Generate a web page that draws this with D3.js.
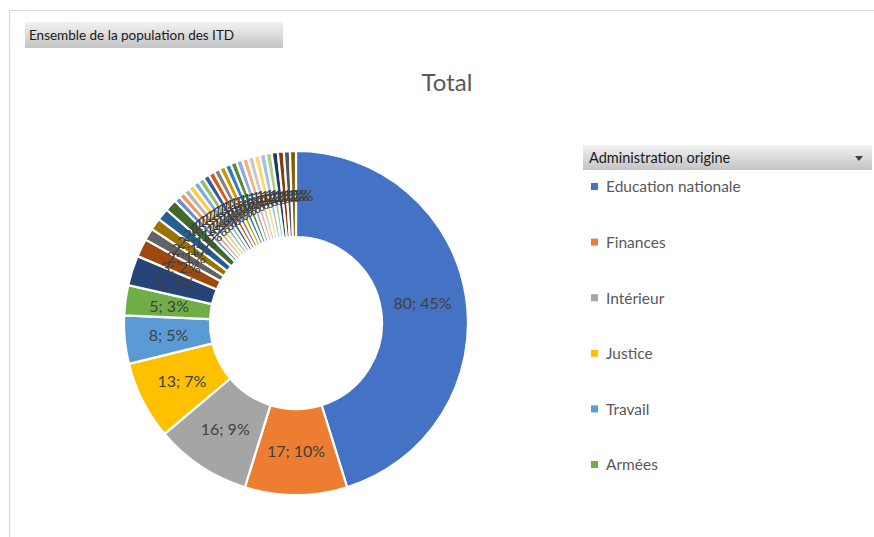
<!DOCTYPE html>
<html><head><meta charset="utf-8">
<script src="https://cdn.jsdelivr.net/npm/d3@7"></script>
<style>
html,body{margin:0;padding:0;background:#fff;}
svg{display:block;font-family:Lato,"Open Sans",sans-serif;}
</style></head>
<body><svg id="chart" width="874" height="537"></svg>
<script>
// ---- data ----
const categories = ["Education nationale","Finances","Intérieur","Justice","Travail","Armées",
  "Administration 7","Administration 8","Administration 9","Administration 10","Administration 11","Administration 12",
  "Administration 13","Administration 14","Administration 15","Administration 16","Administration 17","Administration 18",
  "Administration 19","Administration 20","Administration 21","Administration 22","Administration 23","Administration 24",
  "Administration 25","Administration 26","Administration 27","Administration 28","Administration 29","Administration 30",
  "Administration 31","Administration 32","Administration 33","Administration 34"];
const values = [80,17,16,13,8,5, 5,3,2,2,2,2, 1,1,1,1,1,1, 1,1,1,1,1,1, 1,1,1,1,1,1, 1,1,1,1];
const colors = ["#4472C4","#ED7D31","#A5A5A5","#FFC000","#5B9BD5","#70AD47",
  "#264478","#9E480E","#636363","#997300","#255E91","#43682B",
  "#698ED0","#F1975A","#B7B7B7","#FFCD33","#7CAFDD","#8CC168",
  "#335AA1","#D25F12","#848484","#CC9900","#327CC2","#5B8B39",
  "#8FAADC","#F4B183","#C9C9C9","#FFD966","#9DC3E6","#A9D18E",
  "#203864","#843C0C","#525252","#7F6000"];
const legendShown = 6;
const title = "Total";
const filterLabel = "Ensemble de la population des ITD";
const legendTitle = "Administration origine";

const svg = d3.select("#chart");
const defs = svg.append("defs");
const g1 = defs.append("linearGradient").attr("id","btn").attr("x1",0).attr("y1",0).attr("x2",0).attr("y2",1);
g1.append("stop").attr("offset","0%").attr("stop-color","#f2f2f2");
g1.append("stop").attr("offset","100%").attr("stop-color","#c4c4c4");

// frame
svg.append("line").attr("x1",9.5).attr("x2",874).attr("y1",10.5).attr("y2",10.5).attr("stroke","#d9d9d9");
svg.append("line").attr("x1",9.5).attr("x2",9.5).attr("y1",10.5).attr("y2",537).attr("stroke","#d9d9d9");

// filter button
svg.append("rect").attr("x",25).attr("y",22).attr("width",258).attr("height",26).attr("fill","url(#btn)");
svg.append("text").attr("x",29).attr("y",40).attr("font-size",13.5).attr("fill","#1a1a1a").text(filterLabel);

// title
svg.append("text").attr("x",447).attr("y",91).attr("text-anchor","middle").attr("font-size",24).attr("fill","#595959").text(title);

// donut
const total = d3.sum(values);
const data = categories.map((c,i)=>({name:c,value:values[i],color:colors[i]}));
const pie = d3.pie().value(d=>d.value).sort(null);
const outerR = 172, innerR = 86;
const arc = d3.arc().innerRadius(innerR).outerRadius(outerR);
const labelArc = d3.arc().innerRadius(128).outerRadius(128);
const cg = svg.append("g").attr("transform","translate(296,323)");
const arcs = pie(data);
cg.selectAll("path").data(arcs).join("path")
  .attr("d",arc).attr("fill",d=>d.data.color).attr("stroke","#fff").attr("stroke-width",2.2);
cg.selectAll("text").data(arcs).join("text")
  .attr("transform",d=>`translate(${labelArc.centroid(d)})`)
  .attr("text-anchor","middle").attr("dy","0.35em")
  .attr("font-size",16).attr("fill","#404040")
  .text(d=>`${d.data.value}; ${Math.round(d.data.value/total*100)}%`);

// legend
svg.append("rect").attr("x",583).attr("y",145).attr("width",289).attr("height",25).attr("fill","url(#btn)");
svg.append("text").attr("x",589).attr("y",163).attr("font-size",14.5).attr("fill","#1a1a1a").text(legendTitle);
svg.append("path").attr("d","M855,156 L863,156 L859,161 Z").attr("fill","#404040");
const ly = d3.scalePoint().domain(d3.range(legendShown)).range([187,465]);
const lg = svg.append("g");
data.slice(0,legendShown).forEach((d,i)=>{
  lg.append("rect").attr("x",591).attr("y",ly(i)-4).attr("width",7).attr("height",7).attr("fill",d.color);
  lg.append("text").attr("x",606).attr("y",ly(i)).attr("dy","0.35em").attr("font-size",15.5).attr("fill","#595959").text(d.name);
});
</script></body></html>
